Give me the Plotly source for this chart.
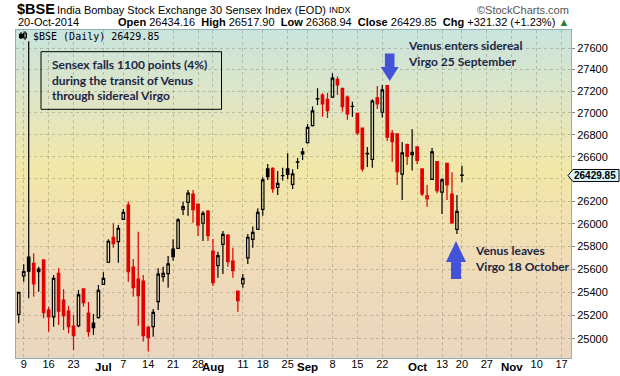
import math
import pandas as pd
import plotly.graph_objects as go

# ---------------- data ----------------
dates = [
    "2014-06-06", "2014-06-09", "2014-06-10", "2014-06-11", "2014-06-12", "2014-06-13",
    "2014-06-16", "2014-06-17", "2014-06-18", "2014-06-19", "2014-06-20",
    "2014-06-23", "2014-06-24", "2014-06-25", "2014-06-26", "2014-06-27",
    "2014-06-30", "2014-07-01", "2014-07-02", "2014-07-03", "2014-07-04",
    "2014-07-07", "2014-07-08", "2014-07-09", "2014-07-10", "2014-07-11",
    "2014-07-14", "2014-07-15", "2014-07-16", "2014-07-17", "2014-07-18",
    "2014-07-21", "2014-07-22", "2014-07-23", "2014-07-24", "2014-07-25",
    "2014-07-28", "2014-07-30", "2014-07-31", "2014-08-01",
    "2014-08-04", "2014-08-05", "2014-08-06", "2014-08-07", "2014-08-08",
    "2014-08-11", "2014-08-12", "2014-08-13", "2014-08-14",
    "2014-08-18", "2014-08-19", "2014-08-20", "2014-08-21", "2014-08-22",
    "2014-08-25", "2014-08-26", "2014-08-27", "2014-08-28",
    "2014-09-01", "2014-09-02", "2014-09-03", "2014-09-04", "2014-09-05",
    "2014-09-08", "2014-09-09", "2014-09-10", "2014-09-11", "2014-09-12",
    "2014-09-15", "2014-09-16", "2014-09-17", "2014-09-18", "2014-09-19",
    "2014-09-22", "2014-09-23", "2014-09-24", "2014-09-25", "2014-09-26",
    "2014-09-29", "2014-09-30", "2014-10-01",
    "2014-10-07", "2014-10-08", "2014-10-09", "2014-10-10",
    "2014-10-13", "2014-10-14", "2014-10-16", "2014-10-17", "2014-10-20",
]
opens = [
    25210, 25543, 25707, 25652, 25602, 25681,
    25247, 25189, 25564, 25333, 25238,
    25110, 25112, 25429, 25221, 25135,
    25181, 25469, 25661, 25880, 25841,
    26039, 26166, 25619, 25515, 25497,
    25101, 25104, 25319, 25535, 25561,
    25777, 25783, 26127, 26190, 26264,
    26175, 26004, 26112, 25759,
    25631, 25818, 25900, 25672, 25411,
    25474, 25700, 25862, 25950,
    26127, 26489, 26495, 26324, 26428,
    26489, 26351, 26550, 26625,
    26727, 26882, 27128, 27164, 27125,
    27144, 27310, 27226, 27144, 27058,
    26996, 26861, 26625, 26576, 27137,
    27005, 27251, 26813, 26807, 26442,
    26710, 26619, 26688,
    26489, 26223, 26396, 26555,
    26281, 26540, 26264, 25950, 26434.16,
]
highs = [
    25405, 25643, 27665, 25739, 25622, 25687,
    25276, 25550, 25608, 25426, 25281,
    25204, 25420, 25435, 25316, 25213,
    25463, 25573, 25862, 26004, 25988,
    26130, 26196, 25690, 25929, 25550,
    25105, 25255, 25608, 25622, 25716,
    25862, 26048, 26196, 26300, 26300,
    26180, 26112, 26121, 25865,
    25753, 25935, 25906, 25788, 25415,
    25558, 25909, 25974, 26136,
    26414, 26534, 26504, 26471, 26500,
    26630, 26486, 26588, 26679,
    26898, 27057, 27226, 27180, 27186,
    27366, 27335, 27230, 27159, 27103,
    27000, 26865, 26688, 27125, 27248,
    27257, 27255, 26843, 26810, 26734,
    26719, 26849, 26692,
    26492, 26345, 26679, 26560,
    26405, 26546, 26460, 26256, 26517.90,
]
lows = [
    25133, 25491, 25348, 25362, 25405, 25176,
    25062, 25104, 25118, 25076, 25048,
    24906, 25100, 25276, 25019, 25033,
    25175, 25465, 25655, 25788, 25657,
    26035, 25491, 25362, 25112, 24977,
    24892, 25019, 25247, 25491, 25440,
    25675, 25780, 26077, 26071, 26009,
    25891, 25847, 25847, 25455,
    25526, 25558, 25622, 25526, 25232,
    25440, 25646, 25788, 25945,
    26071, 26390, 26276, 26256, 26384,
    26396, 26309, 26489, 26570,
    26720, 26875, 27072, 26965, 26952,
    27140, 27164, 27011, 26937, 26965,
    26794, 26465, 26507, 26500, 27035,
    26958, 26742, 26555, 26345, 26211,
    26525, 26474, 26534,
    26247, 26151, 26390, 26270,
    26086, 26211, 26000, 25909, 26368.94,
]
closes = [
    25400, 25580, 25583, 25472, 25578, 25224,
    25189, 25521, 25238, 25198, 25104,
    25028, 25377, 25310, 25062, 25096,
    25417, 25521, 25845, 25823, 25959,
    26101, 25578, 25440, 25370, 25028,
    25011, 25227, 25558, 25564, 25646,
    25709, 26033, 26151, 26271, 26124,
    25988, 26092, 25894, 25483,
    25718, 25906, 25666, 25587, 25327,
    25521, 25880, 25924, 26101,
    26390, 26420, 26312, 26360, 26429,
    26441, 26444, 26552, 26643,
    26867, 27017, 27132, 27081, 27020,
    27320, 27257, 27057, 26990, 27060,
    26815, 26489, 26631, 27109, 27081,
    27211, 26778, 26737, 26465, 26635,
    26603, 26640, 26567,
    26264, 26247, 26643, 26294,
    26390, 26345, 26006, 26108.53, 26429.85,
]

tick_dates = [
    "2014-06-09", "2014-06-16", "2014-06-23", "2014-07-01", "2014-07-07",
    "2014-07-14", "2014-07-21", "2014-07-28", "2014-08-01", "2014-08-11",
    "2014-08-18", "2014-08-25", "2014-09-01", "2014-09-08", "2014-09-15",
    "2014-09-22", "2014-10-01", "2014-10-13", "2014-10-20", "2014-10-27",
    "2014-11-03", "2014-11-10", "2014-11-17",
]
tick_labels = [
    "9", "16", "23", "Jul", "7", "14", "21", "28", "Aug", "11", "18", "25",
    "Sep", "8", "15", "22", "Oct", "13", "20", "27", "Nov", "10", "17",
]
month_labels = ["Jul", "Aug", "Sep", "Oct", "Nov"]
price_ticks = list(range(25000, 27601, 200))

# ---------------- layout geometry (pixels) ----------------
W, H = 620, 376
PL, PR, PT, PB = 16, 571, 30, 358
YMIN, YMAX = 24838, 27772


def px(x):
    return (x - PL) / (PR - PL)


def py(y):
    return (PB - y) / (PB - PT)


# trading-session axis: trading days + future weekdays
future = [d.strftime("%Y-%m-%d") for d in pd.bdate_range("2014-10-21", "2014-11-21")]
sessions = dates + future
pos = {d: i for i, d in enumerate(sessions)}
xs = [pos[d] for d in dates]

black_idx, red_idx = [], []
for i in range(len(dates)):
    if i == 0 or closes[i] >= closes[i - 1]:
        black_idx.append(i)
    else:
        red_idx.append(i)


def sub(lst, idx):
    return [lst[i] for i in idx]


def candles(idx, color):
    return go.Candlestick(
        x=sub(xs, idx), open=sub(opens, idx), high=sub(highs, idx),
        low=sub(lows, idx), close=sub(closes, idx),
        increasing=dict(line=dict(color=color, width=1.2), fillcolor="rgba(0,0,0,0)"),
        decreasing=dict(line=dict(color=color, width=1.2), fillcolor=color),
        whiskerwidth=0, hoverinfo="skip", showlegend=False,
    )


fig = go.Figure([candles(red_idx, "#e00000"), candles(black_idx, "#000000")])

# ---------------- background gradient ----------------
stops = [
    (0.00, (234, 213, 191)),
    (0.33, (240, 221, 182)),
    (0.57, (242, 231, 168)),
    (0.78, (224, 229, 196)),
    (1.00, (201, 228, 222)),
]


def grad(f):
    for (f0, c0), (f1, c1) in zip(stops[:-1], stops[1:]):
        if f0 <= f <= f1:
            t = (f - f0) / (f1 - f0)
            return "rgb(%d,%d,%d)" % tuple(round(a + (b - a) * t) for a, b in zip(c0, c1))
    return "rgb(%d,%d,%d)" % stops[-1][1]


shapes = []
N = 82
for k in range(N):
    f0, f1 = k / N, (k + 1) / N
    shapes.append(dict(type="rect", xref="paper", yref="paper", x0=0, x1=1,
                       y0=f0, y1=f1 + 0.002, fillcolor=grad((f0 + f1) / 2),
                       line=dict(width=0), layer="below"))

# annotation box border
shapes.append(dict(type="rect", xref="paper", yref="paper",
                   x0=px(41), x1=px(221.5), y0=py(109.3), y1=py(51.7),
                   line=dict(color="#000000", width=1), layer="above"))

ARROW = "#4353d8"


def arrow_path(cx, tip, base, end, hw, sw):
    # vertical block arrow; tip/base/end are y pixels
    pts = [(cx, tip), (cx - hw, base), (cx - sw, base), (cx - sw, end),
           (cx + sw, end), (cx + sw, base), (cx + hw, base)]
    return "M " + " L ".join("%.5f,%.5f" % (px(x), py(y)) for x, y in pts) + " Z"


shapes.append(dict(type="path", xref="paper", yref="paper",
                   path=arrow_path(389.7, 81, 67, 53.5, 9, 4.8),
                   fillcolor=ARROW, line=dict(width=0), layer="above"))
shapes.append(dict(type="path", xref="paper", yref="paper",
                   path=arrow_path(456, 241, 262, 279, 10, 5),
                   fillcolor=ARROW, line=dict(width=0), layer="above"))

# price label pointer box
ly = (math.log10(closes[-1]) - math.log10(YMIN)) / (math.log10(YMAX) - math.log10(YMIN))
lyp = PB - ly * (PB - PT)
box = [(568, lyp), (573, lyp - 6), (619, lyp - 6), (619, lyp + 6), (573, lyp + 6)]
shapes.append(dict(type="path", xref="paper", yref="paper",
                   path="M " + " L ".join("%.5f,%.5f" % (px(x), py(y)) for x, y in box) + " Z",
                   fillcolor="#d7f4f8", line=dict(color="#000000", width=1), layer="above"))

# small candle icon in the legend row
shapes.append(dict(type="line", xref="paper", yref="paper", x0=px(21), x1=px(21),
                   y0=py(39), y1=py(32), line=dict(color="#000", width=1)))
shapes.append(dict(type="rect", xref="paper", yref="paper", x0=px(19.5), x1=px(22.5),
                   y0=py(38), y1=py(34), fillcolor="#000", line=dict(color="#000", width=1)))
shapes.append(dict(type="line", xref="paper", yref="paper", x0=px(25), x1=px(25),
                   y0=py(40), y1=py(31), line=dict(color="#000", width=1)))
shapes.append(dict(type="rect", xref="paper", yref="paper", x0=px(23.5), x1=px(26.5),
                   y0=py(38), y1=py(33), fillcolor="rgba(0,0,0,0)", line=dict(color="#000", width=1)))

# ---------------- texts ----------------
SANS = "Liberation Sans, Arial, sans-serif"
CAL = "Lato, Carlito, Calibri, sans-serif"
NAVY = "#1b2444"

chg = closes[-1] - closes[-2]
pct = chg / closes[-2] * 100
last_date = pd.Timestamp(dates[-1]).strftime("%d-%b-%Y")

annotations = [
    dict(x=px(15), y=py(9), xanchor="left", yanchor="middle",
         text="<b>$BSE</b>", font=dict(family=SANS, size=14.5, color="#000")),
    dict(x=px(55), y=py(9.5), xanchor="left", yanchor="middle",
         text="India Bombay Stock Exchange 30 Sensex Index (EOD)",
         font=dict(family=SANS, size=11, color="#000")),
    dict(x=px(327), y=py(9.5), xanchor="left", yanchor="middle",
         text="INDX", font=dict(family=SANS, size=9, color="#000")),
    dict(x=px(571), y=py(9.5), xanchor="right", yanchor="middle",
         text="©StockCharts.com", font=dict(family=SANS, size=11, color="#555")),
    dict(x=px(16), y=py(22), xanchor="left", yanchor="middle",
         text=last_date, font=dict(family=SANS, size=11, color="#000")),
    dict(x=px(571), y=py(22), xanchor="right", yanchor="middle",
         text=("<b>Open</b> %.2f  <b>High</b> %.2f  <b>Low</b> %.2f  <b>Close</b> %.2f  "
               "<b>Chg</b> %+.2f (%+.2f%%) <span style='color:#2e7d2e'>▲</span>")
              % (opens[-1], highs[-1], lows[-1], closes[-1], chg, pct),
         font=dict(family=SANS, size=11, color="#000")),
    dict(x=px(31), y=py(36), xanchor="left", yanchor="middle",
         text="$BSE (Daily) %.2f" % closes[-1],
         font=dict(family="DejaVu Sans Mono, monospace", size=10, color="#000")),
    dict(x=px(50), y=py(80), xanchor="left", yanchor="middle", align="left",
         text="<b>Sensex falls 1100 points (4%)<br>during the transit of Venus<br>through sidereal Virgo</b>",
         font=dict(family=CAL, size=12, color=NAVY)),
    dict(x=px(406), y=py(54), xanchor="left", yanchor="middle", align="left",
         text="<b>Venus enters sidereal<br>Virgo 25 September</b>",
         font=dict(family=CAL, size=12, color=NAVY)),
    dict(x=px(473), y=py(258.5), xanchor="left", yanchor="middle", align="left",
         text="<b>Venus leaves<br>Virgo 18 October</b>",
         font=dict(family=CAL, size=12, color=NAVY)),
    dict(x=px(595), y=py(lyp), xanchor="center", yanchor="middle",
         text="<b>%.2f</b>" % closes[-1],
         font=dict(family=SANS, size=10, color="#000")),
]
for a in annotations:
    a.update(xref="paper", yref="paper", showarrow=False)

# month names are written as bold labels under their gridline
for d, lab in zip(tick_dates, tick_labels):
    if lab in month_labels:
        annotations.append(dict(x=pos[d], xref="x", y=py(366.5), yref="paper",
                                xanchor="center", yanchor="middle", showarrow=False,
                                text="<b>%s</b>" % lab,
                                font=dict(family=SANS, size=11.5, color="#000")))

ticktext = ["" if lab in month_labels else lab for lab in tick_labels]

# the 26400 label sits under the last-price marker in the reference
price_text = ["" if abs(v - closes[-1]) < 60 else str(v) for v in price_ticks]

GRID = "rgba(110,110,90,0.35)"
BORDER = "#8fb1b4"

fig.update_layout(
    width=W, height=H,
    margin=dict(l=PL, r=W - PR, t=PT, b=H - PB, autoexpand=False),
    paper_bgcolor="#ffffff", plot_bgcolor="#f0e3b0",
    shapes=shapes, annotations=annotations,
    hovermode=False, showlegend=False,
    xaxis=dict(
        range=[-0.55, 110.9], rangeslider=dict(visible=False),
        tickmode="array", tickvals=[pos[d] for d in tick_dates], ticktext=ticktext,
        tickfont=dict(family=SANS, size=11, color="#000"),
        showgrid=True, gridcolor=GRID, griddash="dot", gridwidth=1,
        showline=True, linecolor=BORDER, linewidth=1, mirror=True,
        ticks="", ticklabelstandoff=-4, zeroline=False, automargin=False, fixedrange=True,
    ),
    yaxis=dict(
        type="log", side="right",
        range=[math.log10(YMIN), math.log10(YMAX)],
        tickmode="array", tickvals=price_ticks, ticktext=price_text,
        tickfont=dict(family=SANS, size=11, color="#000"),
        showgrid=True, gridcolor=GRID, griddash="dot", gridwidth=1,
        showline=True, linecolor=BORDER, linewidth=1, mirror=True,
        ticks="outside", ticklen=3, tickcolor="#888",
        zeroline=False, automargin=False, fixedrange=True,
    ),
)

fig.write_html("out.html", config={"displayModeBar": False})

# remove the default page margin so the figure sits at the window's corner
with open("out.html", "r", encoding="utf-8") as fh:
    html = fh.read()
html = html.replace("<head>", "<head><style>html,body{margin:0;padding:0;overflow:hidden}</style>", 1)
with open("out.html", "w", encoding="utf-8") as fh:
    fh.write(html)
